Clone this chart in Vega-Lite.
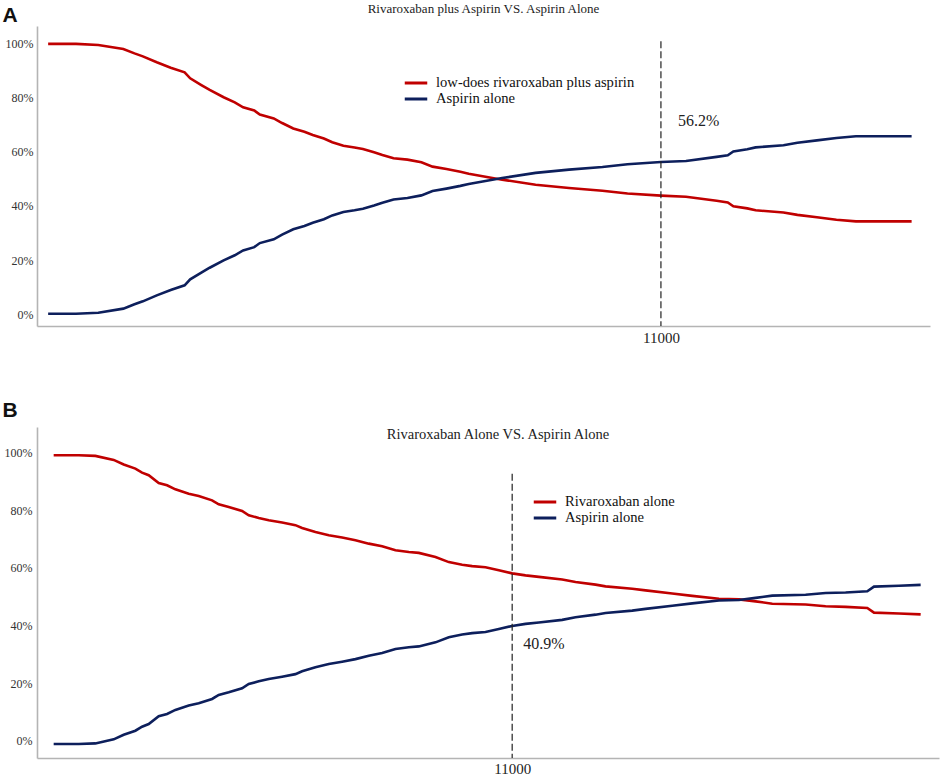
{
"$schema": "https://vega.github.io/schema/vega-lite/v6.json",
"padding": {"left": 2, "top": 3, "right": 2, "bottom": 0},
"background": "white",
"config": {
  "view": {"stroke": null},
  "axis": {"grid": false, "ticks": false, "domainColor": "#b4b4b4", "domainWidth": 1.6, "labelFont": "Liberation Serif", "labelColor": "#333333", "labelFontSize": 12},
  "legend": {"orient": "none", "title": null, "symbolType": "M-1.5,0H1.5", "symbolSize": 225, "symbolStrokeWidth": 3, "labelFont": "Liberation Serif", "labelFontSize": 14.6, "labelColor": "#111111", "labelOffset": 11, "labelLimit": 0, "rowPadding": 0, "padding": 0},
  "title": {"font": "Liberation Serif", "fontWeight": "normal", "color": "#222222", "anchor": "middle", "baseline": "alphabetic"}
},
"datasets": {
  "a": [
    {"x":0,"p":99.8,"s":"low-does rivaroxaban plus aspirin"},{"x":500,"p":99.8,"s":"low-does rivaroxaban plus aspirin"},{"x":900,"p":99.4,"s":"low-does rivaroxaban plus aspirin"},{"x":1350,"p":97.9,"s":"low-does rivaroxaban plus aspirin"},{"x":1550,"p":96.3,"s":"low-does rivaroxaban plus aspirin"},{"x":1700,"p":95.2,"s":"low-does rivaroxaban plus aspirin"},{"x":1950,"p":93.0,"s":"low-does rivaroxaban plus aspirin"},{"x":2200,"p":91.0,"s":"low-does rivaroxaban plus aspirin"},{"x":2450,"p":89.3,"s":"low-does rivaroxaban plus aspirin"},{"x":2550,"p":87.1,"s":"low-does rivaroxaban plus aspirin"},{"x":2750,"p":84.6,"s":"low-does rivaroxaban plus aspirin"},{"x":2900,"p":82.8,"s":"low-does rivaroxaban plus aspirin"},{"x":3150,"p":80.1,"s":"low-does rivaroxaban plus aspirin"},{"x":3350,"p":78.2,"s":"low-does rivaroxaban plus aspirin"},{"x":3500,"p":76.4,"s":"low-does rivaroxaban plus aspirin"},{"x":3700,"p":75.2,"s":"low-does rivaroxaban plus aspirin"},{"x":3800,"p":73.7,"s":"low-does rivaroxaban plus aspirin"},{"x":4050,"p":72.3,"s":"low-does rivaroxaban plus aspirin"},{"x":4200,"p":70.6,"s":"low-does rivaroxaban plus aspirin"},{"x":4400,"p":68.6,"s":"low-does rivaroxaban plus aspirin"},{"x":4600,"p":67.4,"s":"low-does rivaroxaban plus aspirin"},{"x":4750,"p":66.2,"s":"low-does rivaroxaban plus aspirin"},{"x":4950,"p":64.9,"s":"low-does rivaroxaban plus aspirin"},{"x":5100,"p":63.5,"s":"low-does rivaroxaban plus aspirin"},{"x":5300,"p":62.2,"s":"low-does rivaroxaban plus aspirin"},{"x":5500,"p":61.6,"s":"low-does rivaroxaban plus aspirin"},{"x":5650,"p":61.0,"s":"low-does rivaroxaban plus aspirin"},{"x":5850,"p":59.8,"s":"low-does rivaroxaban plus aspirin"},{"x":6000,"p":58.8,"s":"low-does rivaroxaban plus aspirin"},{"x":6200,"p":57.6,"s":"low-does rivaroxaban plus aspirin"},{"x":6450,"p":57.1,"s":"low-does rivaroxaban plus aspirin"},{"x":6700,"p":56.1,"s":"low-does rivaroxaban plus aspirin"},{"x":6900,"p":54.5,"s":"low-does rivaroxaban plus aspirin"},{"x":7150,"p":53.6,"s":"low-does rivaroxaban plus aspirin"},{"x":7400,"p":52.6,"s":"low-does rivaroxaban plus aspirin"},{"x":7550,"p":51.9,"s":"low-does rivaroxaban plus aspirin"},{"x":8150,"p":49.7,"s":"low-does rivaroxaban plus aspirin"},{"x":8750,"p":47.8,"s":"low-does rivaroxaban plus aspirin"},{"x":9350,"p":46.6,"s":"low-does rivaroxaban plus aspirin"},{"x":9950,"p":45.6,"s":"low-does rivaroxaban plus aspirin"},{"x":10400,"p":44.6,"s":"low-does rivaroxaban plus aspirin"},{"x":11000,"p":43.8,"s":"low-does rivaroxaban plus aspirin"},{"x":11450,"p":43.4,"s":"low-does rivaroxaban plus aspirin"},{"x":12000,"p":41.9,"s":"low-does rivaroxaban plus aspirin"},{"x":12200,"p":41.3,"s":"low-does rivaroxaban plus aspirin"},{"x":12300,"p":39.9,"s":"low-does rivaroxaban plus aspirin"},{"x":12550,"p":39.1,"s":"low-does rivaroxaban plus aspirin"},{"x":12700,"p":38.4,"s":"low-does rivaroxaban plus aspirin"},{"x":13200,"p":37.6,"s":"low-does rivaroxaban plus aspirin"},{"x":13450,"p":36.7,"s":"low-does rivaroxaban plus aspirin"},{"x":13800,"p":35.8,"s":"low-does rivaroxaban plus aspirin"},{"x":14150,"p":34.9,"s":"low-does rivaroxaban plus aspirin"},{"x":14500,"p":34.3,"s":"low-does rivaroxaban plus aspirin"},{"x":15050,"p":34.3,"s":"low-does rivaroxaban plus aspirin"},{"x":15500,"p":34.3,"s":"low-does rivaroxaban plus aspirin"},
    {"x":0,"p":0.2,"s":"Aspirin alone"},{"x":500,"p":0.2,"s":"Aspirin alone"},{"x":900,"p":0.6,"s":"Aspirin alone"},{"x":1350,"p":2.1,"s":"Aspirin alone"},{"x":1550,"p":3.7,"s":"Aspirin alone"},{"x":1700,"p":4.8,"s":"Aspirin alone"},{"x":1950,"p":7.0,"s":"Aspirin alone"},{"x":2200,"p":9.0,"s":"Aspirin alone"},{"x":2450,"p":10.7,"s":"Aspirin alone"},{"x":2550,"p":12.9,"s":"Aspirin alone"},{"x":2750,"p":15.4,"s":"Aspirin alone"},{"x":2900,"p":17.2,"s":"Aspirin alone"},{"x":3150,"p":19.9,"s":"Aspirin alone"},{"x":3350,"p":21.8,"s":"Aspirin alone"},{"x":3500,"p":23.6,"s":"Aspirin alone"},{"x":3700,"p":24.8,"s":"Aspirin alone"},{"x":3800,"p":26.3,"s":"Aspirin alone"},{"x":4050,"p":27.7,"s":"Aspirin alone"},{"x":4200,"p":29.4,"s":"Aspirin alone"},{"x":4400,"p":31.4,"s":"Aspirin alone"},{"x":4600,"p":32.6,"s":"Aspirin alone"},{"x":4750,"p":33.8,"s":"Aspirin alone"},{"x":4950,"p":35.1,"s":"Aspirin alone"},{"x":5100,"p":36.5,"s":"Aspirin alone"},{"x":5300,"p":37.8,"s":"Aspirin alone"},{"x":5500,"p":38.4,"s":"Aspirin alone"},{"x":5650,"p":39.0,"s":"Aspirin alone"},{"x":5850,"p":40.2,"s":"Aspirin alone"},{"x":6000,"p":41.2,"s":"Aspirin alone"},{"x":6200,"p":42.4,"s":"Aspirin alone"},{"x":6450,"p":42.9,"s":"Aspirin alone"},{"x":6700,"p":43.9,"s":"Aspirin alone"},{"x":6900,"p":45.5,"s":"Aspirin alone"},{"x":7150,"p":46.4,"s":"Aspirin alone"},{"x":7400,"p":47.4,"s":"Aspirin alone"},{"x":7550,"p":48.1,"s":"Aspirin alone"},{"x":8150,"p":50.3,"s":"Aspirin alone"},{"x":8750,"p":52.2,"s":"Aspirin alone"},{"x":9350,"p":53.4,"s":"Aspirin alone"},{"x":9950,"p":54.4,"s":"Aspirin alone"},{"x":10400,"p":55.4,"s":"Aspirin alone"},{"x":11000,"p":56.2,"s":"Aspirin alone"},{"x":11450,"p":56.6,"s":"Aspirin alone"},{"x":12000,"p":58.1,"s":"Aspirin alone"},{"x":12200,"p":58.7,"s":"Aspirin alone"},{"x":12300,"p":60.1,"s":"Aspirin alone"},{"x":12550,"p":60.9,"s":"Aspirin alone"},{"x":12700,"p":61.6,"s":"Aspirin alone"},{"x":13200,"p":62.4,"s":"Aspirin alone"},{"x":13450,"p":63.3,"s":"Aspirin alone"},{"x":13800,"p":64.2,"s":"Aspirin alone"},{"x":14150,"p":65.1,"s":"Aspirin alone"},{"x":14500,"p":65.7,"s":"Aspirin alone"},{"x":15050,"p":65.7,"s":"Aspirin alone"},{"x":15500,"p":65.7,"s":"Aspirin alone"}
  ],
  "b": [
    {"x":0,"p":100,"s":"Rivaroxaban alone"},{"x":600,"p":100,"s":"Rivaroxaban alone"},{"x":1000,"p":99.8,"s":"Rivaroxaban alone"},{"x":1440,"p":98.4,"s":"Rivaroxaban alone"},{"x":1680,"p":96.8,"s":"Rivaroxaban alone"},{"x":1960,"p":95.4,"s":"Rivaroxaban alone"},{"x":2120,"p":94.0,"s":"Rivaroxaban alone"},{"x":2280,"p":93.1,"s":"Rivaroxaban alone"},{"x":2520,"p":90.4,"s":"Rivaroxaban alone"},{"x":2720,"p":89.6,"s":"Rivaroxaban alone"},{"x":2920,"p":88.2,"s":"Rivaroxaban alone"},{"x":3240,"p":86.7,"s":"Rivaroxaban alone"},{"x":3480,"p":85.9,"s":"Rivaroxaban alone"},{"x":3800,"p":84.4,"s":"Rivaroxaban alone"},{"x":3960,"p":83.0,"s":"Rivaroxaban alone"},{"x":4200,"p":82.1,"s":"Rivaroxaban alone"},{"x":4520,"p":80.7,"s":"Rivaroxaban alone"},{"x":4680,"p":79.2,"s":"Rivaroxaban alone"},{"x":4920,"p":78.3,"s":"Rivaroxaban alone"},{"x":5160,"p":77.5,"s":"Rivaroxaban alone"},{"x":5480,"p":76.7,"s":"Rivaroxaban alone"},{"x":5800,"p":75.8,"s":"Rivaroxaban alone"},{"x":5960,"p":74.8,"s":"Rivaroxaban alone"},{"x":6280,"p":73.4,"s":"Rivaroxaban alone"},{"x":6600,"p":72.3,"s":"Rivaroxaban alone"},{"x":6920,"p":71.5,"s":"Rivaroxaban alone"},{"x":7240,"p":70.6,"s":"Rivaroxaban alone"},{"x":7560,"p":69.4,"s":"Rivaroxaban alone"},{"x":7880,"p":68.5,"s":"Rivaroxaban alone"},{"x":8200,"p":67.1,"s":"Rivaroxaban alone"},{"x":8520,"p":66.5,"s":"Rivaroxaban alone"},{"x":8760,"p":66.2,"s":"Rivaroxaban alone"},{"x":9160,"p":64.8,"s":"Rivaroxaban alone"},{"x":9480,"p":63.0,"s":"Rivaroxaban alone"},{"x":9800,"p":62.1,"s":"Rivaroxaban alone"},{"x":10040,"p":61.6,"s":"Rivaroxaban alone"},{"x":10360,"p":61.2,"s":"Rivaroxaban alone"},{"x":10680,"p":60.2,"s":"Rivaroxaban alone"},{"x":11000,"p":59.1,"s":"Rivaroxaban alone"},{"x":11320,"p":58.4,"s":"Rivaroxaban alone"},{"x":11640,"p":57.9,"s":"Rivaroxaban alone"},{"x":12200,"p":57.0,"s":"Rivaroxaban alone"},{"x":12520,"p":56.1,"s":"Rivaroxaban alone"},{"x":13000,"p":55.2,"s":"Rivaroxaban alone"},{"x":13240,"p":54.6,"s":"Rivaroxaban alone"},{"x":13880,"p":53.8,"s":"Rivaroxaban alone"},{"x":14200,"p":53.2,"s":"Rivaroxaban alone"},{"x":14840,"p":52.1,"s":"Rivaroxaban alone"},{"x":15320,"p":51.3,"s":"Rivaroxaban alone"},{"x":15960,"p":50.3,"s":"Rivaroxaban alone"},{"x":16440,"p":50.1,"s":"Rivaroxaban alone"},{"x":16840,"p":49.4,"s":"Rivaroxaban alone"},{"x":17240,"p":48.6,"s":"Rivaroxaban alone"},{"x":18040,"p":48.3,"s":"Rivaroxaban alone"},{"x":18520,"p":47.7,"s":"Rivaroxaban alone"},{"x":19000,"p":47.5,"s":"Rivaroxaban alone"},{"x":19520,"p":47.1,"s":"Rivaroxaban alone"},{"x":19680,"p":45.5,"s":"Rivaroxaban alone"},{"x":20280,"p":45.2,"s":"Rivaroxaban alone"},{"x":20800,"p":44.9,"s":"Rivaroxaban alone"},
    {"x":0,"p":0,"s":"Aspirin alone"},{"x":600,"p":0,"s":"Aspirin alone"},{"x":1000,"p":0.2,"s":"Aspirin alone"},{"x":1440,"p":1.6,"s":"Aspirin alone"},{"x":1680,"p":3.2,"s":"Aspirin alone"},{"x":1960,"p":4.6,"s":"Aspirin alone"},{"x":2120,"p":6.0,"s":"Aspirin alone"},{"x":2280,"p":6.9,"s":"Aspirin alone"},{"x":2520,"p":9.6,"s":"Aspirin alone"},{"x":2720,"p":10.4,"s":"Aspirin alone"},{"x":2920,"p":11.8,"s":"Aspirin alone"},{"x":3240,"p":13.3,"s":"Aspirin alone"},{"x":3480,"p":14.1,"s":"Aspirin alone"},{"x":3800,"p":15.6,"s":"Aspirin alone"},{"x":3960,"p":17.0,"s":"Aspirin alone"},{"x":4200,"p":17.9,"s":"Aspirin alone"},{"x":4520,"p":19.3,"s":"Aspirin alone"},{"x":4680,"p":20.8,"s":"Aspirin alone"},{"x":4920,"p":21.7,"s":"Aspirin alone"},{"x":5160,"p":22.5,"s":"Aspirin alone"},{"x":5480,"p":23.3,"s":"Aspirin alone"},{"x":5800,"p":24.2,"s":"Aspirin alone"},{"x":5960,"p":25.2,"s":"Aspirin alone"},{"x":6280,"p":26.6,"s":"Aspirin alone"},{"x":6600,"p":27.7,"s":"Aspirin alone"},{"x":6920,"p":28.5,"s":"Aspirin alone"},{"x":7240,"p":29.4,"s":"Aspirin alone"},{"x":7560,"p":30.6,"s":"Aspirin alone"},{"x":7880,"p":31.5,"s":"Aspirin alone"},{"x":8200,"p":32.9,"s":"Aspirin alone"},{"x":8520,"p":33.5,"s":"Aspirin alone"},{"x":8760,"p":33.8,"s":"Aspirin alone"},{"x":9160,"p":35.2,"s":"Aspirin alone"},{"x":9480,"p":37.0,"s":"Aspirin alone"},{"x":9800,"p":37.9,"s":"Aspirin alone"},{"x":10040,"p":38.4,"s":"Aspirin alone"},{"x":10360,"p":38.8,"s":"Aspirin alone"},{"x":10680,"p":39.8,"s":"Aspirin alone"},{"x":11000,"p":40.9,"s":"Aspirin alone"},{"x":11320,"p":41.6,"s":"Aspirin alone"},{"x":11640,"p":42.1,"s":"Aspirin alone"},{"x":12200,"p":43.0,"s":"Aspirin alone"},{"x":12520,"p":43.9,"s":"Aspirin alone"},{"x":13000,"p":44.8,"s":"Aspirin alone"},{"x":13240,"p":45.4,"s":"Aspirin alone"},{"x":13880,"p":46.2,"s":"Aspirin alone"},{"x":14200,"p":46.8,"s":"Aspirin alone"},{"x":14840,"p":47.9,"s":"Aspirin alone"},{"x":15320,"p":48.7,"s":"Aspirin alone"},{"x":15960,"p":49.7,"s":"Aspirin alone"},{"x":16440,"p":49.9,"s":"Aspirin alone"},{"x":16840,"p":50.6,"s":"Aspirin alone"},{"x":17240,"p":51.4,"s":"Aspirin alone"},{"x":18040,"p":51.7,"s":"Aspirin alone"},{"x":18520,"p":52.3,"s":"Aspirin alone"},{"x":19000,"p":52.5,"s":"Aspirin alone"},{"x":19520,"p":52.9,"s":"Aspirin alone"},{"x":19680,"p":54.5,"s":"Aspirin alone"},{"x":20280,"p":54.8,"s":"Aspirin alone"},{"x":20800,"p":55.1,"s":"Aspirin alone"}
  ]
},
"spacing": 54,
"resolve": {"scale": {"x": "independent", "y": "independent", "color": "independent"}, "legend": {"color": "independent"}},
"vconcat": [
  {
    "width": 893, "height": 300,
    "title": {"text": "Rivaroxaban plus Aspirin VS. Aspirin Alone", "fontSize": 13, "offset": -12},
    "layer": [
      {
        "data": {"name": "a"},
        "mark": {"type": "line", "strokeWidth": 2.6},
        "encoding": {
          "x": {"field": "x", "type": "quantitative", "scale": {"domain": [-200, 15830], "nice": false, "zero": false},
                "axis": {"title": null, "values": [11000], "format": "d", "labelFontSize": 15, "labelColor": "#222222", "labelPadding": 4}},
          "y": {"field": "p", "type": "quantitative", "scale": {"domain": [-4.3, 106.4], "nice": false, "zero": false},
                "axis": {"values": [0, 20, 40, 60, 80, 100], "labelExpr": "datum.value + '%'", "labelPadding": 4,
                         "title": "A", "titleAngle": 0, "titleFont": "Liberation Sans", "titleFontWeight": "bold", "titleFontSize": 21, "titleColor": "#111111",
                         "titleAlign": "left", "titleBaseline": "alphabetic", "titleX": -35, "titleY": -5}},
          "color": {"field": "s", "type": "nominal",
                    "scale": {"domain": ["low-does rivaroxaban plus aspirin", "Aspirin alone"], "range": ["#C00000", "#0D1F5C"]},
                    "legend": {"legendX": 370, "legendY": 48}}
        }
      },
      {
        "data": {"values": [{"x": 11000}]},
        "mark": {"type": "rule", "strokeDash": [7, 3], "color": "#222222", "strokeWidth": 1.2},
        "encoding": {"x": {"field": "x", "type": "quantitative"}, "y": {"datum": 100.8}, "y2": {"datum": -4.3}}
      },
      {
        "data": {"values": [{"x": 11000, "label": "56.2%"}]},
        "mark": {"type": "text", "font": "Liberation Serif", "fontSize": 16, "color": "#222222", "align": "left", "baseline": "middle", "dx": 17},
        "encoding": {"x": {"field": "x", "type": "quantitative"}, "y": {"datum": 71.3}, "text": {"field": "label"}}
      }
    ]
  },
  {
    "width": 902, "height": 331,
    "title": {"text": "Rivaroxaban Alone VS. Aspirin Alone", "fontSize": 14.5, "offset": -43, "dx": 10},
    "layer": [
      {
        "data": {"name": "b"},
        "mark": {"type": "line", "strokeWidth": 2.6},
        "encoding": {
          "x": {"field": "x", "type": "quantitative", "scale": {"domain": [-400, 21240], "nice": false, "zero": false},
                "axis": {"title": null, "values": [11000], "format": "d", "labelFontSize": 15, "labelColor": "#222222", "labelPadding": 3}},
          "y": {"field": "p", "type": "quantitative", "scale": {"domain": [-4.85, 109.8], "nice": false, "zero": false},
                "axis": {"values": [0, 20, 40, 60, 80, 100], "labelExpr": "datum.value + '%'", "labelPadding": 5, "labelOffset": -3,
                         "title": "B", "titleAngle": 0, "titleFont": "Liberation Sans", "titleFontWeight": "bold", "titleFontSize": 21, "titleColor": "#111111",
                         "titleAlign": "left", "titleBaseline": "alphabetic", "titleX": -35, "titleY": -11}},
          "color": {"field": "s", "type": "nominal",
                    "scale": {"domain": ["Rivaroxaban alone", "Aspirin alone"], "range": ["#C00000", "#0D1F5C"]},
                    "legend": {"legendX": 499, "legendY": 66}}
        }
      },
      {
        "data": {"values": [{"x": 11000}]},
        "mark": {"type": "rule", "strokeDash": [7, 3], "color": "#222222", "strokeWidth": 1.2},
        "encoding": {"x": {"field": "x", "type": "quantitative"}, "y": {"datum": 93.6}, "y2": {"datum": -4.85}}
      },
      {
        "data": {"values": [{"x": 11000, "label": "40.9%"}]},
        "mark": {"type": "text", "font": "Liberation Serif", "fontSize": 16, "color": "#222222", "align": "left", "baseline": "middle", "dx": 11},
        "encoding": {"x": {"field": "x", "type": "quantitative"}, "y": {"datum": 34.8}, "text": {"field": "label"}}
      }
    ]
  }
]
}
